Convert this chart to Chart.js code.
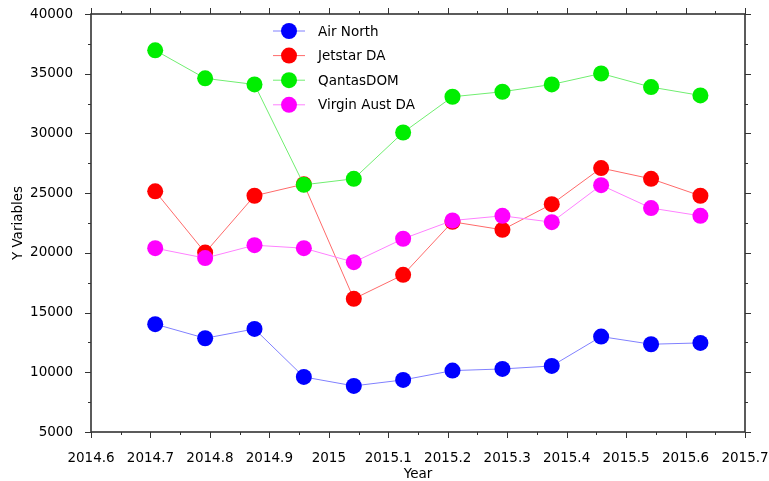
<!DOCTYPE html>
<html>
<head>
<meta charset="utf-8">
<script src="https://cdn.jsdelivr.net/npm/chart.js@4/dist/chart.umd.min.js"></script>
<style>
  html, body { margin: 0; padding: 0; background: #fff; }
  #wrap { width: 769px; height: 481px; }
</style>
</head>
<body>
<div id="wrap"><canvas id="c" width="769" height="481"></canvas></div>
<script>
// ---- data ----
const years = [2014.708, 2014.792, 2014.875, 2014.958, 2015.042, 2015.125,
               2015.208, 2015.292, 2015.375, 2015.458, 2015.542, 2015.625];
const airNorth  = [14030, 12850, 13630, 9610, 8860, 9360, 10140, 10280, 10530, 12990, 12350, 12460];
const jetstarDA = [25150, 20020, 24780, 25750, 16150, 18160, 22600, 21930, 24080, 27100, 26200, 24780];
const qantasDOM = [36960, 34610, 34100, 25700, 26200, 30080, 33070, 33490, 34100, 35020, 33880, 33180];
const virginDA  = [20390, 19560, 20640, 20390, 19220, 21180, 22710, 23100, 22570, 25670, 23750, 23100];
const seriesNames = ["Air North", "Jetstar DA", "QantasDOM", "Virgin Aust DA"];
const xMin = 2014.6, xMax = 2015.7, xStep = 0.1, xMinorStep = 0.05;
const yMin = 5000, yMax = 40000, yStep = 5000, yMinorStep = 2500;

const FONT = "'DejaVu Sans', 'Liberation Sans', sans-serif";

function pts(vals) { return vals.map((v, i) => ({ x: years[i], y: v })); }

const styles = [
  { point: '#0000ff', line: '#8080ff' },
  { point: '#ff0000', line: '#ff6a6a' },
  { point: '#00ee00', line: '#70ee70' },
  { point: '#ff00ff', line: '#ff80ff' }
];
const allValues = [airNorth, jetstarDA, qantasDOM, virginDA];

const datasets = allValues.map((vals, i) => ({
  label: seriesNames[i],
  data: pts(vals),
  showLine: true,
  borderColor: styles[i].line,
  borderWidth: 1,
  pointBackgroundColor: styles[i].point,
  pointBorderColor: styles[i].point,
  pointBorderWidth: 0,
  pointRadius: 8,
  pointHoverRadius: 8,
  order: 4 - i
}));

const framePlugin = {
  id: 'frame',
  afterDraw(chart) {
    const { ctx, chartArea: { left, right, top, bottom }, scales: { x, y } } = chart;
    ctx.save();
    ctx.strokeStyle = '#333';
    ctx.lineWidth = 1;
    ctx.beginPath();
    const nx = Math.round((xMax - xMin) / xMinorStep);
    for (let i = 0; i <= nx; i++) {
      const px = Math.round(x.getPixelForValue(xMin + i * xMinorStep)) + 0.5;
      const len = i % 2 === 0 ? 6 : 3;
      ctx.moveTo(px, bottom); ctx.lineTo(px, bottom + len);
      ctx.moveTo(px, top); ctx.lineTo(px, top - len);
    }
    const ny = Math.round((yMax - yMin) / yMinorStep);
    for (let i = 0; i <= ny; i++) {
      const py = Math.round(y.getPixelForValue(yMin + i * yMinorStep)) + 0.5;
      const len = i % 2 === 0 ? 6 : 3;
      ctx.moveTo(left, py); ctx.lineTo(left - len, py);
      ctx.moveTo(right, py); ctx.lineTo(right + len, py);
    }
    ctx.stroke();
    ctx.lineWidth = 1.6;
    ctx.strokeRect(left, top, right - left, bottom - top);

    // legend inside plot
    const lx0 = left + 182, lx1 = left + 214, tx = left + 227;
    const ly0 = top + 17, dy = 24.6;
    ctx.font = '13.5px ' + FONT;
    ctx.textBaseline = 'middle';
    ctx.textAlign = 'left';
    chart.data.datasets.forEach((ds, i) => {
      const yy = ly0 + i * dy;
      ctx.strokeStyle = ds.borderColor;
      ctx.lineWidth = 1;
      ctx.beginPath(); ctx.moveTo(lx0, yy); ctx.lineTo(lx1, yy); ctx.stroke();
      ctx.fillStyle = ds.pointBackgroundColor;
      ctx.beginPath(); ctx.arc((lx0 + lx1) / 2, yy, 8, 0, Math.PI * 2); ctx.fill();
      ctx.fillStyle = '#000';
      ctx.fillText(ds.label, tx, yy + 1);
    });
    ctx.restore();
  }
};

function noPad(s) { s.paddingTop = 0; s.paddingBottom = 0; s.paddingLeft = 0; s.paddingRight = 0; }

new Chart(document.getElementById('c'), {
  type: 'scatter',
  data: { datasets },
  plugins: [framePlugin],
  options: {
    responsive: false,
    animation: false,
    layout: { padding: { top: 14, right: 24, left: 0, bottom: 0 } },
    plugins: { legend: { display: false }, tooltip: { enabled: false } },
    scales: {
      x: {
        type: 'linear', min: xMin, max: xMax,
        grid: { display: false, drawTicks: false },
        border: { display: false },
        ticks: {
          stepSize: xStep, padding: 18, color: '#000', maxRotation: 0,
          font: { family: FONT, size: 13.5 },
          callback: v => String(+Number(v).toFixed(1))
        },
        title: { display: true, text: 'Year', color: '#000', font: { family: FONT, size: 13.5 }, padding: { top: 0, bottom: -2 } },
        afterFit: s => { s.height = 49; noPad(s); }
      },
      y: {
        type: 'linear', min: yMin, max: yMax,
        grid: { display: false, drawTicks: false },
        border: { display: false },
        ticks: {
          stepSize: yStep, padding: 18, color: '#000',
          font: { family: FONT, size: 13.5 },
          callback: v => String(v)
        },
        title: { display: true, text: 'Y Variables', color: '#000', font: { family: FONT, size: 13.5 }, padding: { top: 10, bottom: 0 } },
        afterFit: s => { s.width = 91; noPad(s); }
      }
    }
  }
});
</script>
</body>
</html>
